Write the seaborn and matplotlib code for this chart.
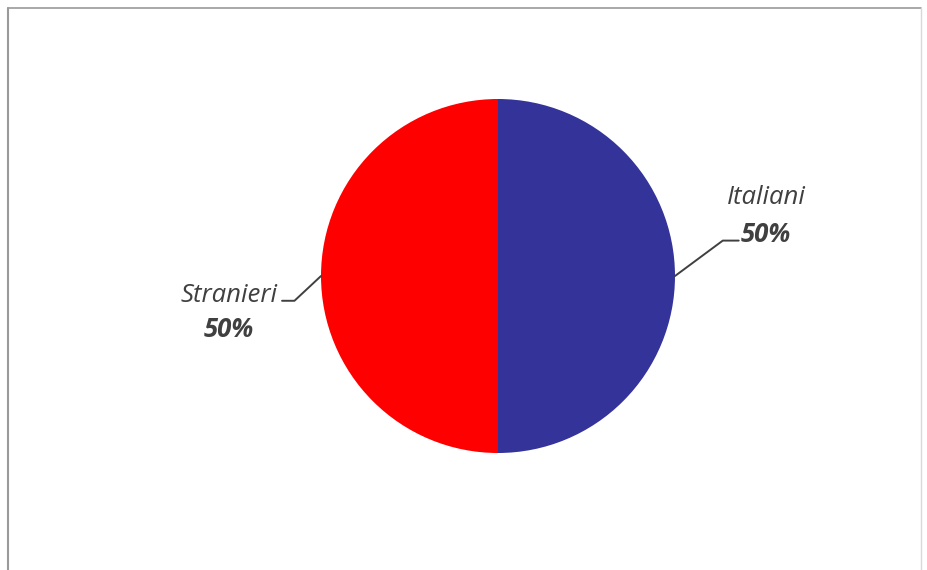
import numpy as np
import matplotlib
matplotlib.use("Agg")
import matplotlib.pyplot as plt
import seaborn as sns
from matplotlib.lines import Line2D

# dati
categorie = ["Italiani", "Stranieri"]
percentuali = [50, 50]
colori = ["#333399", "#FF0000"]

sns.set_theme(style="white")
plt.rcParams['font.family'] = ['Open Sans', 'DejaVu Sans']

fig = plt.figure(figsize=(9.27, 5.70), dpi=100)
W, H = 927, 570
cx, cy, r = 498, 276, 177
ax = fig.add_axes([(cx - r) / W, (H - cy - r) / H, 2 * r / W, 2 * r / H])

wedges, _ = ax.pie(percentuali, colors=colori, startangle=90, counterclock=False,
                   radius=1, wedgeprops=dict(linewidth=0))
ax.set_xlim(-1, 1)
ax.set_ylim(-1, 1)
ax.axis("off")

# etichette con linee guida
col_testo = "#404040"
for w, nome, val in zip(wedges, categorie, percentuali):
    ang = np.deg2rad((w.theta1 + w.theta2) / 2)
    x0, y0 = np.cos(ang), np.sin(ang)
    lato = 1 if x0 >= 0 else -1
    if lato > 0:
        gomito = (1.27, 0.20)
        fine = (1.36, 0.20)
        tx, ty1, ty2 = 1.515, 0.445, 0.235
    else:
        gomito = (-1.15, -0.14)
        fine = (-1.22, -0.14)
        tx, ty1, ty2 = -1.52, -0.11, -0.30
    ax.plot([x0, gomito[0], fine[0]], [y0, gomito[1], fine[1]], color="#404040",
            lw=1.4, clip_on=False)
    ax.text(tx, ty1, nome, ha="center", va="center", fontsize=18.5, style="italic",
            color=col_testo, clip_on=False)
    ax.text(tx, ty2, f"{val}%", ha="center", va="center", fontsize=18.5, style="italic",
            weight="bold", color=col_testo, clip_on=False)

# cornice
grigio = "#9a9a9a"
fig.add_artist(Line2D([8 / W, 8 / W], [0, 1 - 8 / H], color=grigio, lw=1.5))
fig.add_artist(Line2D([8 / W, 921 / W], [1 - 8 / H, 1 - 8 / H], color=grigio, lw=1.2))
fig.add_artist(Line2D([921 / W, 921 / W], [0, 1 - 8 / H], color="#d8d8d8", lw=1))

fig.savefig("out.png", dpi=100, facecolor="white")
